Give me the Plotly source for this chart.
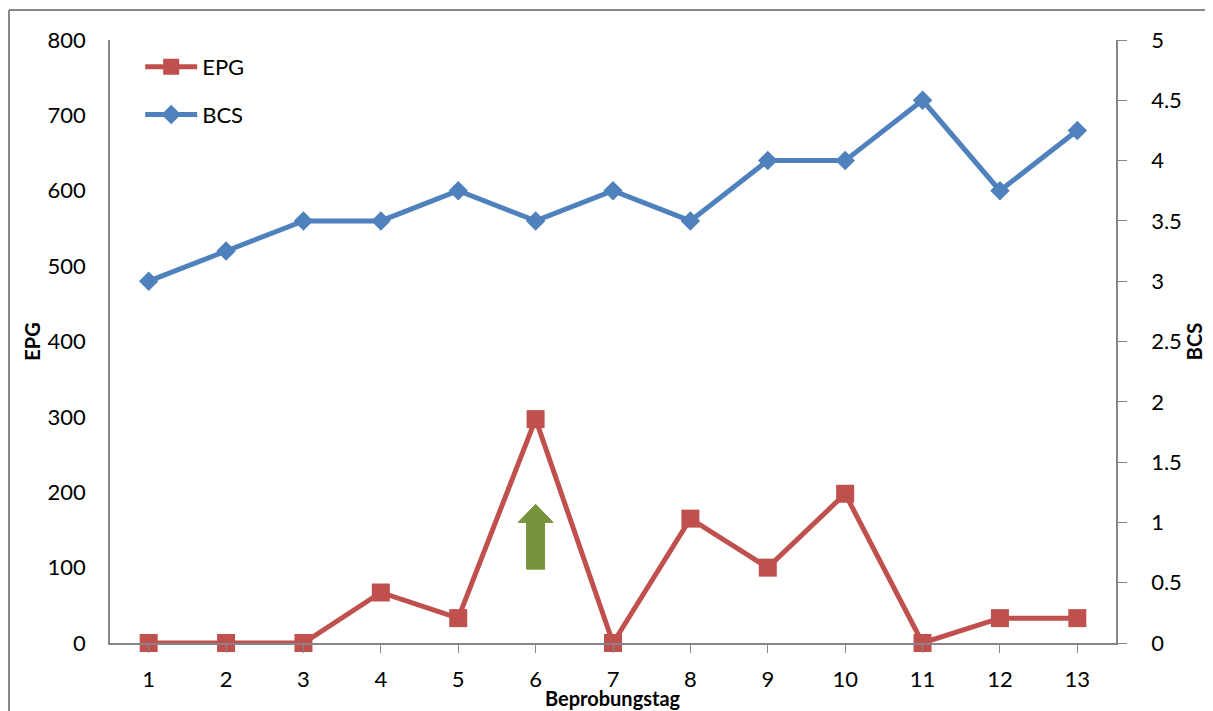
import plotly.graph_objects as go

days = list(range(1, 14))
day_labels = [str(d) for d in days]
epg = [0, 0, 0, 67, 33, 297, 0, 165, 100, 198, 0, 33, 33]
bcs = [3.0, 3.25, 3.5, 3.5, 3.75, 3.5, 3.75, 3.5, 4.0, 4.0, 4.5, 3.75, 4.25]

# green arrow marker (treatment day), in data units
arrow_day = 6
arrow_bottom = 98
arrow_head_base = 160
arrow_tip = 184
shaft_half = 0.116
head_half = 0.226

RED = "#C0504D"
BLUE = "#4F81BD"
GREEN = "#77933C"
AXIS = "#868686"
FONT = "Lato"

fig = go.Figure()
fig.add_trace(go.Scatter(
    x=days, y=epg, name="EPG", mode="lines+markers", cliponaxis=False,
    line=dict(color=RED, width=5),
    marker=dict(symbol="square", size=18, color=RED),
    legendgroup="a",
))
fig.add_trace(go.Scatter(
    x=days, y=bcs, name="BCS", mode="lines+markers", yaxis="y2", cliponaxis=False,
    line=dict(color=BLUE, width=5),
    marker=dict(symbol="diamond", size=15, color=BLUE),
    legendgroup="b",
))

ax = arrow_day
path = (f"M {ax - shaft_half} {arrow_bottom} L {ax - shaft_half} {arrow_head_base} "
        f"L {ax - head_half} {arrow_head_base} L {ax} {arrow_tip} "
        f"L {ax + head_half} {arrow_head_base} L {ax + shaft_half} {arrow_head_base} "
        f"L {ax + shaft_half} {arrow_bottom} Z")
fig.add_shape(type="path", path=path, xref="x", yref="y",
              fillcolor=GREEN, line=dict(color=GREEN, width=1), layer="above")

# outer chart frame (partly cropped in the reference)
L, T = -0.1004, 1.0498
fig.add_shape(type="line", xref="paper", yref="paper", x0=L, x1=L, y0=-0.3, y1=T,
              line=dict(color=AXIS, width=2))
fig.add_shape(type="line", xref="paper", yref="paper", x0=L, x1=1.3, y0=T, y1=T,
              line=dict(color=AXIS, width=2))

fig.add_annotation(text="<b>Beprobungstag</b>", xref="paper", yref="paper",
                   x=0.5, y=-0.0912, xanchor="center", yanchor="middle",
                   showarrow=False, font=dict(size=20, family=FONT))

fig.update_layout(
    width=1213, height=711,
    margin=dict(l=102, r=105, t=32, b=76, autoexpand=False),
    paper_bgcolor="white", plot_bgcolor="white",
    font=dict(family=FONT, size=22, color="black"),
    showlegend=True,
    legend=dict(x=0.03, y=0.99, xanchor="left", yanchor="top",
                font=dict(size=22), bgcolor="rgba(0,0,0,0)",
                tracegroupgap=16, itemwidth=52),
    xaxis=dict(
        range=[0.5, 13.5], tickmode="array", tickvals=days, ticktext=day_labels,
        showgrid=False, zeroline=False, showline=True, linecolor=AXIS, linewidth=1.5,
        ticks="outside", tickson="boundaries", ticklen=8, tickcolor=AXIS,
        ticklabelstandoff=8, automargin=False,
    ),
    yaxis=dict(
        range=[0, 800], dtick=100, showgrid=False, zeroline=False,
        showline=True, linecolor=AXIS, linewidth=1.5, ticks="",
        ticklabelstandoff=18, automargin=False,
        title=dict(text="<b>EPG</b>", font=dict(size=20), standoff=2),
    ),
    yaxis2=dict(
        range=[0, 5], dtick=0.5, overlaying="y", side="right",
        showgrid=False, zeroline=False, showline=True, linecolor=AXIS, linewidth=1.5,
        ticks="outside", ticklen=9, tickcolor=AXIS, ticklabelstandoff=20,
        automargin=False,
        title=dict(text="<b>BCS</b>", font=dict(size=20), standoff=7),
    ),
)

fig.write_html("out.html")
